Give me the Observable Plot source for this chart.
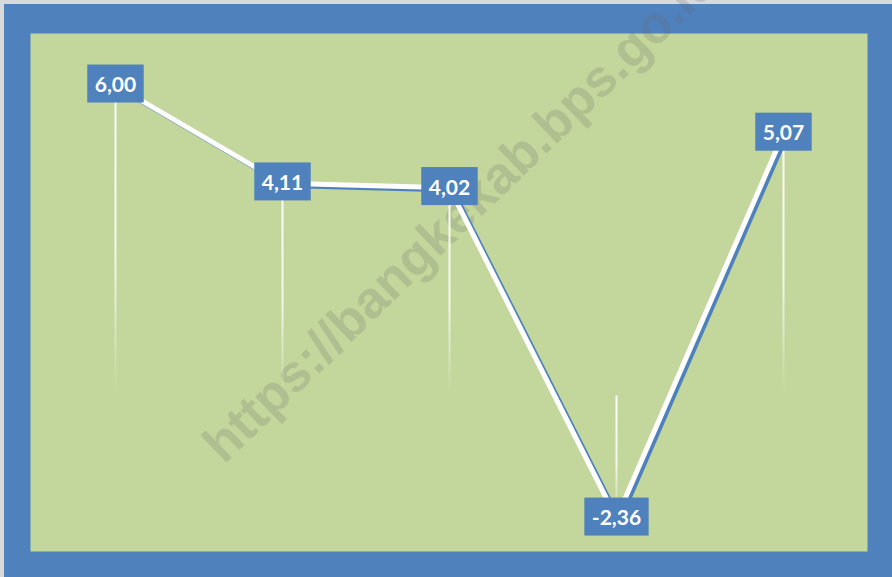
<!DOCTYPE html>
<html><head><meta charset="utf-8">
<script src="https://cdn.jsdelivr.net/npm/d3@7"></script>
<script src="https://cdn.jsdelivr.net/npm/@observablehq/plot@0.6"></script>
<style>
html,body{margin:0;padding:0;background:#fff;}
#page{position:relative;width:892px;height:577px;overflow:hidden;}
#wrap{position:absolute;left:0;top:0;width:888px;height:573px;border-top:4px solid #d9d9d9;border-left:4px solid #d9d9d9;background:#4F81BD;}
#wrap svg{display:block;}
</style></head><body>
<div id="page"><div id="wrap"></div></div>
<script>
const categories = ["1","2","3","4","5"];
const values = [6.00, 4.11, 4.02, -2.36, 5.07];
const labels = ["6,00","4,11","4,02","-2,36","5,07"];
const watermark = "https://bangkekab.bps.go.id";

const data = categories.map((c, i) => ({c, v: values[i], label: labels[i]}));
const BLUE = "#4F81BD", GREEN = "#C3D69B";

const chart = Plot.plot({
  width: 888, height: 573,
  marginLeft: 26, marginRight: 25, marginTop: 29, marginBottom: 26,
  style: {background: "transparent", overflow: "visible"},
  x: {type: "point", domain: categories, padding: 0.5, axis: null},
  y: {domain: [-3, 7], axis: null},
  marks: [
    Plot.frame({fill: GREEN, stroke: "none"}),
    Plot.ruleX(data, {x: "c", y1: "v", y2: 0, stroke: "#fff", strokeWidth: 2}),
    Plot.line(data, {x: "c", y: "v", stroke: BLUE, strokeWidth: 5, dx: 3, dy: 2.2}),
    Plot.line(data, {x: "c", y: "v", stroke: "#fff", strokeWidth: 5}),
    Plot.text(data, {x: "c", y: "v", text: "label", fill: "#fff", fontSize: 21, fontWeight: "bold", fontFamily: "Lato"})
  ]
});
document.getElementById("wrap").appendChild(chart);

const NS = "http://www.w3.org/2000/svg";
// gradient drop lines
let defs = document.createElementNS(NS, "defs");
chart.insertBefore(defs, chart.firstChild);
chart.querySelectorAll('g[aria-label="rule"] line').forEach((ln, i) => {
  const ya = +ln.getAttribute("y1"), yb = +ln.getAttribute("y2");
  const x = ln.getAttribute("x1") || 0;
  const g = document.createElementNS(NS, "linearGradient");
  g.setAttribute("id", "dg" + i);
  g.setAttribute("gradientUnits", "userSpaceOnUse");
  g.setAttribute("x1", x); g.setAttribute("x2", x);
  g.setAttribute("y1", Math.min(ya, yb)); g.setAttribute("y2", Math.max(ya, yb));
  [[0, 0.95], [0.55, 0.8], [1, 0]].forEach(([o, a]) => {
    const s = document.createElementNS(NS, "stop");
    s.setAttribute("offset", o); s.setAttribute("stop-color", "#fff"); s.setAttribute("stop-opacity", a);
    g.appendChild(s);
  });
  defs.appendChild(g);
  ln.setAttribute("stroke", "url(#dg" + i + ")");
});
// label boxes
chart.querySelectorAll('g[aria-label="text"] text').forEach(t => {
  const b = t.getBBox();
  const w = b.width + 15, h = 38;
  const r = document.createElementNS(NS, "rect");
  r.setAttribute("x", b.x + b.width / 2 - w / 2);
  r.setAttribute("y", b.y + b.height / 2 - h / 2);
  r.setAttribute("width", w); r.setAttribute("height", h);
  r.setAttribute("fill", BLUE); r.setAttribute("stroke", "none");
  const tr = t.getAttribute("transform");
  if (tr) r.setAttribute("transform", tr);
  t.parentNode.insertBefore(r, t);
});
// watermark, drawn just above the plot background and below the marks
const frameG = chart.querySelector('[aria-label="frame"]');
const wt = document.createElementNS(NS, "text");
wt.setAttribute("x", 220); wt.setAttribute("y", 461);
wt.setAttribute("transform", "rotate(-44 220 461)");
wt.setAttribute("text-anchor", "start");
wt.setAttribute("font-family", "Liberation Sans, Arial, sans-serif");
wt.setAttribute("font-weight", "bold");
wt.setAttribute("font-size", 52);
wt.setAttribute("fill", "rgba(100,100,100,0.2)");
wt.textContent = watermark;
frameG.parentNode.insertBefore(wt, frameG.nextSibling);
</script>
</body></html>
